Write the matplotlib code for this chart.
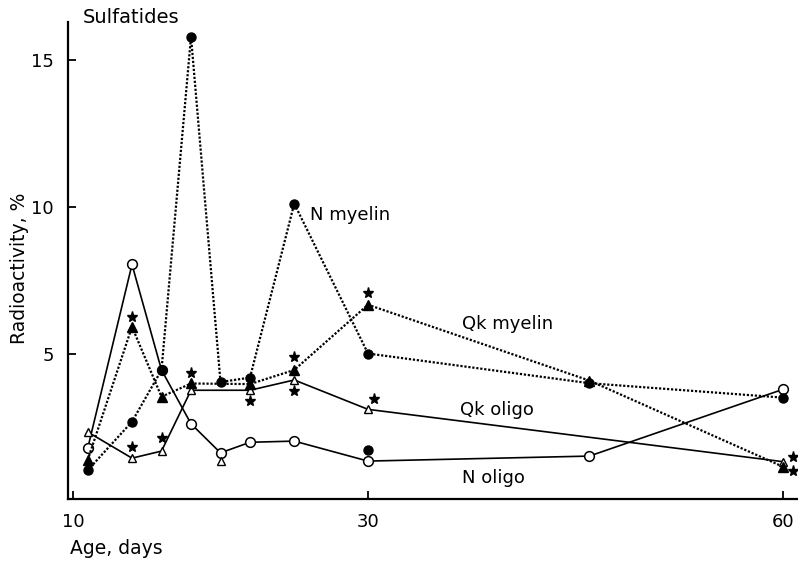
import numpy as np
import matplotlib
matplotlib.use("Agg")
import matplotlib.pyplot as plt

# Sulfatide radioactivity (%) vs age (days)
days_n_oligo = [11, 14, 16, 18, 20, 22, 25, 30, 46, 60]
n_oligo = [1.8, 8.05, 4.46, 2.63, 1.64, 2.0, 2.04, 1.36, 1.53, 3.8]

days_qk_oligo = [11, 14, 16, 18, 22, 25, 30, 60]
qk_oligo = [2.35, 1.46, 1.7, 3.77, 3.77, 4.12, 3.12, 1.34]

days_n_myelin = [11, 14, 16, 18, 20, 22, 25, 30, 46, 60]
n_myelin = [1.05, 2.7, 4.46, 15.8, 4.05, 4.2, 10.12, 5.02, 4.01, 3.52]

days_qk_myelin = [11, 14, 16, 18, 22, 25, 30, 46, 60]
qk_myelin = [1.4, 5.93, 3.55, 4.0, 3.98, 4.46, 6.68, 4.1, 1.17]

# unconnected points
days_extra_tri = [20]
extra_tri = [1.36]
days_extra_dot = [30]
extra_dot = [1.73]
days_stars = [14, 14, 16, 18, 22, 25, 25, 30, 30.4, 60.7, 60.7]
stars = [6.26, 1.84, 2.14, 4.35, 3.4, 4.9, 3.74, 7.07, 3.47, 1.5, 1.02]


# the printed age axis is not uniform: 10-30 is stretched relative to 30-60
def fwd(x):
    x = np.asarray(x, float)
    return np.where(x <= 30, (x - 10) * 14.75, 295 + (x - 30) * 13.83)


def inv(p):
    p = np.asarray(p, float)
    return np.where(p <= 295, 10 + p / 14.75, 30 + (p - 295) / 13.83)


plt.rcParams['font.family'] = ['DejaVu Sans']
fig = plt.figure(figsize=(7.98, 5.63), dpi=100)
ax = fig.add_axes([68 / 798, 64 / 563, 730 / 798, 477 / 563])
ax.set_xscale('function', functions=(fwd, inv))

solid = dict(color='black', lw=1.2)
dotted = dict(color='black', lw=1.6, linestyle=(0, (1, 0.8)))

ax.plot(days_n_oligo, n_oligo, marker='o', ms=7, mfc='white', mec='black', mew=1.1, **solid)
ax.plot(days_qk_oligo, qk_oligo, marker='^', ms=6, mfc='white', mec='black', mew=1.0, **solid)
ax.plot(days_n_myelin, n_myelin, marker='o', ms=6.5, mfc='black', mec='black', **dotted)
ax.plot(days_qk_myelin, qk_myelin, marker='^', ms=6.5, mfc='black', mec='black', **dotted)
ax.plot(days_extra_tri, extra_tri, ls='none', marker='^', ms=6, mfc='white', mec='black', mew=1.0)
ax.plot(days_extra_dot, extra_dot, ls='none', marker='o', ms=6.5, color='black')
ax.plot(days_stars, stars, ls='none', marker='*', ms=8, color='black')

ax.set_xlim(inv(-5), inv(725))
ax.set_ylim(0.07, 16.3)
ax.set_xticks([10, 30, 60])
ax.set_xticklabels(['10', '30', '60'])
ax.set_yticks([5, 10, 15])
ax.tick_params(direction='in', length=6, width=1.3, labelsize=13, pad=10)
ax.minorticks_off()
for s in ['top', 'right']:
    ax.spines[s].set_visible(False)
for s in ['left', 'bottom']:
    ax.spines[s].set_linewidth(1.6)

ax.text(26.1, 9.73, 'N myelin', fontsize=13, va='center')
ax.text(36.8, 6.02, 'Qk myelin', fontsize=13, va='center')
ax.text(36.65, 3.1, 'Qk oligo', fontsize=13, va='center')
ax.text(36.8, 0.78, 'N oligo', fontsize=13, va='center')

fig.text(83 / 798, 1 - 17.5 / 563, 'Sulfatides', fontsize=14, va='center')
fig.text(20 / 798, 1 - 268 / 563, 'Radioactivity, %', fontsize=13.5, rotation=90,
         ha='center', va='center')
fig.text(70 / 798, 1 - 548 / 563, 'Age, days', fontsize=13.5, va='center')

fig.savefig('out.png', dpi=100)
